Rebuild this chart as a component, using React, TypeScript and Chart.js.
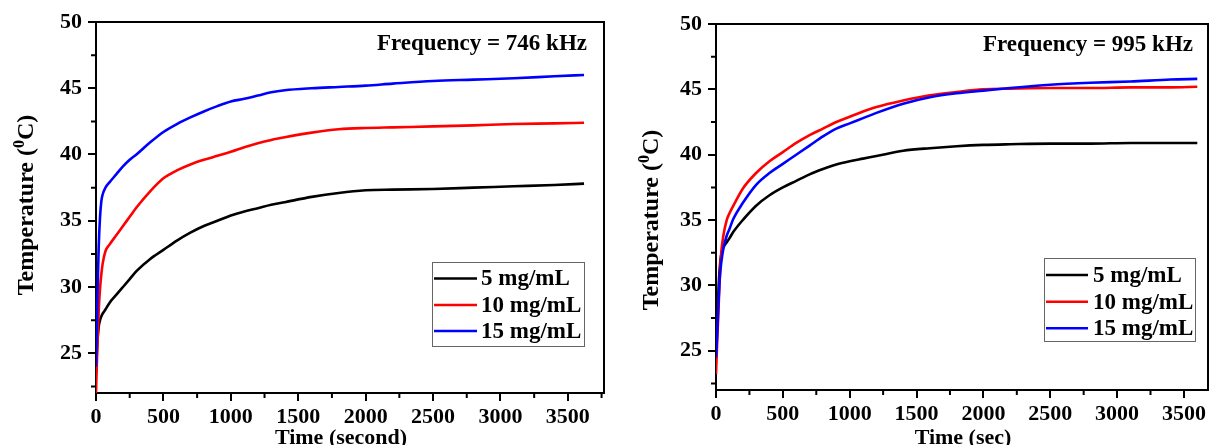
import React, { useEffect, useRef } from "react";
import { Chart, registerables } from "chart.js";

Chart.register(...registerables);

// ---------- data ----------
const seriesLabels = ["5 mg/mL", "10 mg/mL", "15 mg/mL"];
const seriesColors = ["#000000", "#ff0000", "#0000ff"];

const xTickValues = [0, 500, 1000, 1500, 2000, 2500, 3000, 3500];
const xMinorTickValues = [250, 750, 1250, 1750, 2250, 2750, 3250, 3750];
const yTickValues = [25, 30, 35, 40, 45, 50];
const yMinorTickValues = [22.5, 27.5, 32.5, 37.5, 42.5, 47.5];

// Panel A: Frequency = 746 kHz
const timeA = [0, 10, 20, 30, 40, 50, 70, 100, 150, 200, 250, 300, 400, 500, 600, 700, 800, 900, 1000, 1100, 1200, 1300, 1400, 1600, 1800, 2000, 2200, 2500, 2800, 3100, 3400, 3620];
const blackA = [23.5, 25.8, 27.0, 27.5, 27.8, 28.0, 28.3, 28.8, 29.4, 30.0, 30.6, 31.2, 32.1, 32.8, 33.5, 34.1, 34.6, 35.0, 35.4, 35.7, 35.95, 36.2, 36.4, 36.8, 37.1, 37.3, 37.35, 37.4, 37.5, 37.6, 37.7, 37.8];
const redA = [22.0, 25.5, 28.2, 29.9, 31.0, 31.8, 32.7, 33.2, 33.9, 34.6, 35.3, 36.0, 37.2, 38.2, 38.8, 39.25, 39.6, 39.9, 40.2, 40.55, 40.85, 41.1, 41.3, 41.65, 41.9, 42.0, 42.05, 42.12, 42.2, 42.3, 42.35, 42.4];
const blueA = [24.0, 29.0, 33.0, 35.3, 36.5, 37.0, 37.5, 37.9, 38.5, 39.1, 39.6, 40.0, 40.9, 41.7, 42.3, 42.8, 43.25, 43.65, 44.0, 44.2, 44.45, 44.7, 44.85, 45.0, 45.1, 45.2, 45.35, 45.55, 45.65, 45.75, 45.9, 46.0];

// Panel B: Frequency = 995 kHz
const timeB = [0, 10, 20, 30, 40, 55, 80, 100, 130, 200, 300, 400, 500, 600, 700, 800, 900, 1000, 1100, 1200, 1400, 1600, 1800, 2000, 2200, 2500, 2800, 3100, 3400, 3600];
const blackB = [24.5, 27.5, 30.0, 31.6, 32.4, 32.9, 33.3, 33.6, 34.1, 35.0, 36.1, 36.9, 37.5, 38.0, 38.5, 38.9, 39.25, 39.5, 39.7, 39.9, 40.3, 40.5, 40.65, 40.75, 40.8, 40.85, 40.85, 40.9, 40.9, 40.9];
const redB = [23.2, 26.0, 28.5, 31.0, 32.6, 33.8, 35.0, 35.5, 36.1, 37.4, 38.6, 39.5, 40.2, 40.9, 41.5, 42.0, 42.5, 42.9, 43.3, 43.65, 44.15, 44.55, 44.8, 45.0, 45.05, 45.1, 45.1, 45.15, 45.15, 45.2];
const blueB = [24.5, 26.5, 29.0, 30.8, 31.8, 32.8, 33.8, 34.3, 35.1, 36.3, 37.7, 38.6, 39.3, 40.0, 40.7, 41.4, 42.0, 42.4, 42.8, 43.2, 43.9, 44.4, 44.7, 44.9, 45.1, 45.35, 45.5, 45.6, 45.75, 45.8];

const FONT = '"Liberation Serif", "Times New Roman", serif';

type Panel = {
  time: number[];
  series: number[][];
  freq: string;
  xTitle: string;
  xMax: number;
  yMin: number;
  layoutCfg: any;
};

const panels: Panel[] = [
  {
    time: timeA,
    series: [blackA, redA, blueA],
    freq: "Frequency = 746 kHz",
    xTitle: "Time (second)",
    xMax: 3768,
    yMin: 22,
    layoutCfg: {
      canvasLeft: 0, width: 605, padTop: 22, padRight: 1, yAxisWidth: 96, xAxisHeight: 52,
      yTitleX: 25, yTitleY: 205, xTitleX: 341, xTitleBase: 444, freqRight: 587, freqBase: 50,
      legend: { x: 432, y: 262, w: 152, h: 84, lineX0: 434, lineX1: 477, textX: 481, rows: [278.5, 305, 331] },
    },
  },
  {
    time: timeB,
    series: [blackB, redB, blueB],
    freq: "Frequency = 995 kHz",
    xTitle: "Time (sec)",
    xMax: 3680,
    yMin: 22,
    layoutCfg: {
      canvasLeft: 605, width: 605, padTop: 24, padRight: 2, yAxisWidth: 111, xAxisHeight: 55,
      yTitleX: 45, yTitleY: 220, xTitleX: 358, xTitleBase: 444, freqRight: 588, freqBase: 51,
      legend: { x: 439, y: 258, w: 151, h: 83, lineX0: 441, lineX1: 483, textX: 488, rows: [275, 301.7, 328.3] },
    },
  },
];

function makeDecorPlugin(panel: Panel) {
  const L = panel.layoutCfg;
  return {
    id: "decor",
    afterDraw(chart: any) {
      const { ctx, chartArea: a, scales } = chart;
      const xs = scales.x;
      const ys = scales.y;
      ctx.save();
      ctx.fillStyle = "#000";
      // frequency annotation
      ctx.font = `bold 23px ${FONT}`;
      ctx.textAlign = "right";
      ctx.textBaseline = "alphabetic";
      ctx.fillText(panel.freq, L.freqRight, L.freqBase);

      // x title
      ctx.font = `bold 22px ${FONT}`;
      ctx.textAlign = "center";
      ctx.fillText(panel.xTitle, L.xTitleX, L.xTitleBase);

      // y title with superscript
      ctx.save();
      ctx.translate(L.yTitleX, L.yTitleY);
      ctx.rotate(-Math.PI / 2);
      ctx.textAlign = "left";
      const mainFont = `bold 24px ${FONT}`;
      const supFont = `bold 16px ${FONT}`;
      ctx.font = mainFont;
      const w1 = ctx.measureText("Temperature (").width;
      const w3 = ctx.measureText("C)").width;
      ctx.font = supFont;
      const w2 = ctx.measureText("0").width;
      let x = -(w1 + w2 + w3) / 2;
      const base = 8;
      ctx.font = mainFont;
      ctx.fillText("Temperature (", x, base);
      x += w1;
      ctx.font = supFont;
      ctx.fillText("0", x, base - 9);
      x += w2;
      ctx.font = mainFont;
      ctx.fillText("C)", x, base);
      ctx.restore();

      // legend
      const lg = L.legend;
      ctx.strokeStyle = "#666";
      ctx.lineWidth = 1;
      ctx.strokeRect(lg.x + 0.5, lg.y + 0.5, lg.w, lg.h);
      ctx.font = `bold 23px ${FONT}`;
      ctx.textAlign = "left";
      ctx.textBaseline = "middle";
      seriesLabels.forEach((lab, i) => {
        const y = lg.rows[i];
        ctx.strokeStyle = seriesColors[i];
        ctx.lineWidth = 2.5;
        ctx.beginPath();
        ctx.moveTo(lg.lineX0, y);
        ctx.lineTo(lg.lineX1, y);
        ctx.stroke();
        ctx.fillStyle = "#000";
        ctx.fillText(lab, lg.textX, y + 1);
      });

      // minor ticks
      ctx.strokeStyle = "#000";
      ctx.lineWidth = 2;
      ctx.beginPath();
      xMinorTickValues.forEach((v) => {
        if (v > xs.max) return;
        const p = xs.getPixelForValue(v);
        ctx.moveTo(p, a.bottom);
        ctx.lineTo(p, a.bottom + 5);
      });
      yMinorTickValues.forEach((v) => {
        if (v < ys.min) return;
        const p = ys.getPixelForValue(v);
        ctx.moveTo(a.left, p);
        ctx.lineTo(a.left - 5, p);
      });
      ctx.stroke();

      // frame (top, right)
      ctx.beginPath();
      ctx.moveTo(a.left - 1, a.top);
      ctx.lineTo(a.right, a.top);
      ctx.lineTo(a.right, a.bottom + 1);
      ctx.stroke();
      ctx.restore();
    },
  };
}

function PanelChart({ panel }: { panel: Panel }) {
  const ref = useRef<HTMLCanvasElement | null>(null);
  useEffect(() => {
    const L = panel.layoutCfg;
    const tickFont = { family: FONT, size: 22, weight: "bold" as const };
    const chart = new Chart(ref.current as HTMLCanvasElement, {
      type: "line",
      data: {
        datasets: panel.series.map((vals, i) => ({
          label: seriesLabels[i],
          data: panel.time.map((t, j) => ({ x: t, y: vals[j] })),
          borderColor: seriesColors[i],
          backgroundColor: seriesColors[i],
          borderWidth: 2.6,
          pointRadius: 0,
          cubicInterpolationMode: "monotone" as const,
          fill: false,
          order: 2 - i,
        })),
      },
      options: {
        responsive: false,
        animation: false,
        events: [],
        layout: { padding: { top: L.padTop, right: L.padRight, left: 0, bottom: 0 } },
        plugins: {
          legend: { display: false },
          tooltip: { enabled: false },
        },
        scales: {
          x: {
            type: "linear",
            min: 0,
            max: panel.xMax,
            afterBuildTicks: (s: any) => {
              s.ticks = xTickValues.map((v) => ({ value: v }));
            },
            afterFit: (s: any) => {
              s.height = L.xAxisHeight;
            },
            ticks: { font: tickFont, color: "#000", padding: 3, maxRotation: 0, autoSkip: false, callback: (v: any) => String(v) },
            grid: { drawOnChartArea: false, drawTicks: true, tickLength: 8, tickWidth: 2, tickColor: "#000", color: "#000", lineWidth: 2 },
            border: { display: true, color: "#000", width: 2 },
          },
          y: {
            type: "linear",
            min: panel.yMin,
            max: 50,
            afterBuildTicks: (s: any) => {
              s.ticks = yTickValues.map((v) => ({ value: v }));
            },
            afterFit: (s: any) => {
              s.width = L.yAxisWidth;
            },
            ticks: { font: tickFont, color: "#000", padding: 6, autoSkip: false, callback: (v: any) => String(v) },
            grid: { drawOnChartArea: false, drawTicks: true, tickLength: 8, tickWidth: 2, tickColor: "#000", color: "#000", lineWidth: 2 },
            border: { display: true, color: "#000", width: 2 },
          },
        },
      },
      plugins: [makeDecorPlugin(panel)],
    } as any);
    return () => chart.destroy();
  }, [panel]);
  const L = panel.layoutCfg;
  return (
    <canvas
      ref={ref}
      width={L.width}
      height={445}
      style={{ position: "absolute", left: L.canvasLeft, top: 0, width: L.width, height: 445 }}
    />
  );
}

export default function App() {
  useEffect(() => {
    document.body.style.margin = "0";
  }, []);
  return (
    <div style={{ position: "absolute", left: 0, top: 0, width: 1210, height: 445, background: "#fff", overflow: "hidden" }}>
      {panels.map((p, i) => (
        <PanelChart key={i} panel={p} />
      ))}
    </div>
  );
}
